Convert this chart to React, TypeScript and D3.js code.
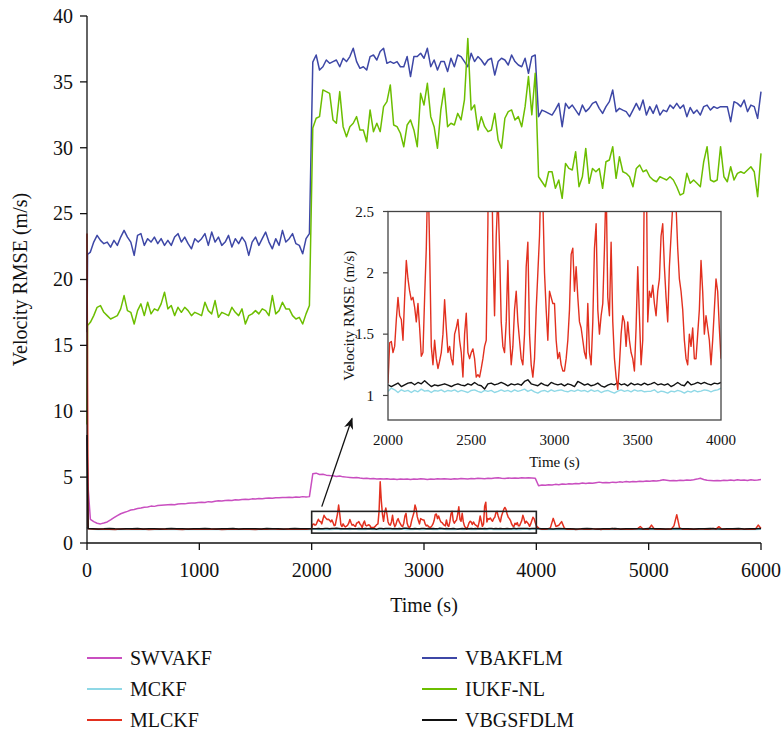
import React from "react";
import * as d3 from "d3";

// ---------- data ----------
type Seg = { start: number; step: number; values: number[] };

const mainXTicks = [0, 1000, 2000, 3000, 4000, 5000, 6000];
const mainYTicks = [0, 5, 10, 15, 20, 25, 30, 35, 40];
const insetXTicks = [2000, 2500, 3000, 3500, 4000];
const insetYTicks = [1, 1.5, 2, 2.5];
const zoomWindow = { t0: 2000, t1: 4000, v0: 0.75, v1: 2.4 };

// SWVAKF
const swvakfHead = [8.0, 4.2];
const swvakf0 = [1.80,1.62,1.50,1.45,1.52,1.60,1.75,1.92,2.08,2.22,2.32,2.40,2.50,2.55,2.62,2.65,2.72,2.74,2.80,2.78,2.84,2.86,2.88,2.90,2.92,2.90,2.96,2.98,2.97,3.02,3.04,3.03,3.08,3.10,3.08,3.14,3.12,3.17,3.20,3.18,3.22,3.25,3.23,3.28,3.26,3.30,3.32,3.30,3.35,3.34,3.38,3.36,3.40,3.42,3.40,3.44,3.43,3.46,3.45,3.48,3.46,3.50,3.48,3.52,3.50,3.52];
const swvakf1 = [5.25,5.30,5.20,5.22,5.15,5.12,5.10,5.05,5.08,5.02,5.00,4.98,4.95,4.97,4.93,4.90,4.92,4.88,4.90,4.86,4.88,4.85,4.88,4.84,4.86,4.82,4.85,4.83,4.86,4.82,4.85,4.84,4.88,4.85,4.82,4.86,4.84,4.87,4.85,4.88,4.86,4.84,4.88,4.86,4.90,4.88,4.86,4.90,4.88,4.92,4.90,4.88,4.92,4.90,4.93,4.96,4.92,4.90,4.93,4.91,4.94,4.92,4.95,4.93,4.95,4.94,4.92];
const swvakf2 = [4.35,4.40,4.38,4.42,4.40,4.45,4.43,4.47,4.45,4.50,4.48,4.52,4.50,4.55,4.52,4.56,4.54,4.58,4.62,4.57,4.60,4.58,4.62,4.60,4.64,4.62,4.66,4.63,4.67,4.65,4.68,4.66,4.70,4.68,4.72,4.70,4.74,4.80,4.76,4.72,4.74,4.72,4.76,4.74,4.78,4.76,4.80,4.85,4.92,4.82,4.76,4.74,4.72,4.75,4.73,4.76,4.74,4.78,4.75,4.80,4.76,4.78,4.74,4.80,4.76,4.78,4.82];

// VBAKFLM
const vbakflmHead = [16.0, 21.9];
const vbakflm0 = [22.08,22.84,23.35,22.97,22.72,22.84,22.46,22.97,22.59,23.22,23.73,23.22,22.84,21.83,23.35,23.48,22.59,23.10,22.84,23.22,22.72,23.10,22.59,22.97,22.59,23.22,23.48,22.84,23.22,22.72,22.33,23.10,22.84,23.10,23.48,22.59,23.60,22.84,23.22,22.59,22.84,23.35,22.46,23.10,22.72,23.22,22.84,21.83,22.84,23.22,22.59,23.10,23.60,22.84,22.33,23.10,22.59,23.73,22.84,23.10,23.48,22.72,22.59,21.95,23.10,23.48];
const vbakflm1 = [36.50,37.04,35.90,36.15,36.66,36.41,36.54,36.66,36.15,36.79,36.54,36.92,37.55,36.54,36.03,36.15,35.90,36.92,37.04,36.66,37.30,37.55,36.41,36.54,36.41,36.54,36.15,36.15,36.92,35.40,36.92,36.92,37.17,36.79,37.55,36.15,36.66,35.90,36.54,36.54,35.78,36.79,36.15,37.04,36.92,36.54,36.15,37.17,36.54,36.92,36.66,36.28,36.66,36.79,35.52,36.54,36.79,36.66,36.28,37.04,36.54,36.28,36.15,36.79,35.65,36.92,37.04];
const vbakflm2 = [32.36,32.86,32.74,32.61,32.48,32.90,33.37,31.60,33.37,32.99,33.24,32.86,32.48,33.24,32.74,32.99,33.37,33.50,32.99,32.61,33.12,33.50,34.38,32.74,32.99,32.86,32.74,32.36,32.86,33.37,32.86,33.62,32.48,33.12,32.61,33.24,32.48,32.86,32.74,33.24,32.99,33.37,32.99,33.24,32.36,33.05,32.61,32.86,32.48,33.12,33.24,32.86,33.12,32.99,33.12,33.12,33.12,31.98,33.50,33.37,33.12,33.62,32.74,33.24,33.12,32.23,34.26];

// IUKF-NL
const iukfHead = [9.0, 16.5];
const iukf0 = [16.75,17.26,17.89,18.02,17.51,17.26,17.00,17.13,17.26,17.77,18.78,17.64,17.51,16.62,17.64,18.15,17.26,18.27,17.39,17.77,17.64,18.15,19.04,17.77,18.02,17.26,17.89,17.51,17.89,17.64,17.26,17.51,17.39,17.26,18.27,17.64,17.39,18.40,17.13,17.51,17.39,17.26,17.89,17.51,17.26,17.77,16.62,17.26,17.39,17.64,17.39,17.77,17.64,17.26,18.78,17.39,17.64,18.27,17.77,17.77,17.26,17.00,17.13,16.62,17.39,18.02];
const iukf1 = [31.50,32.24,32.36,34.39,34.26,34.13,32.11,31.86,34.26,31.60,30.84,31.60,31.86,32.36,31.35,31.35,30.46,32.87,31.22,31.86,31.22,33.12,33.50,34.77,31.73,31.60,31.10,30.08,31.73,32.11,31.35,30.08,34.13,33.25,34.89,32.36,31.60,29.96,32.87,34.51,31.60,31.86,31.73,32.61,32.11,33.63,38.30,32.87,33.25,31.35,32.36,31.60,31.22,31.35,32.61,30.59,29.96,32.24,32.74,32.87,32.11,32.36,31.60,33.12,35.40,32.50,35.65];
const iukf2 = [27.80,27.42,27.04,28.18,28.18,26.92,27.55,26.16,28.81,28.43,28.31,29.70,27.04,27.80,29.95,27.30,28.43,28.18,28.43,26.92,28.94,29.07,30.08,27.68,29.32,28.18,28.06,27.80,27.04,28.43,28.69,28.18,28.31,27.80,27.55,27.42,27.80,27.68,27.55,27.80,27.55,27.04,26.41,26.54,28.06,27.30,27.55,27.30,27.04,28.94,30.08,27.55,27.42,27.55,30.08,27.80,27.42,28.56,27.55,28.06,28.18,28.06,28.31,28.56,28.18,26.29,29.57];

// MLCKF
const mlckfHead = [23.5, 1.08];
const mlckf0 = [1.06,1.04,1.07,1.05,1.03,1.06,1.08,1.04,1.05,1.07,1.03,1.05,1.06,1.04,1.08,1.05,1.03,1.06,1.05,1.07,1.04,1.05,1.06,1.03,1.05,1.07,1.04,1.06,1.05,1.03,1.06,1.05,1.08,1.04,1.05,1.06,1.04,1.07,1.05];
const mlckf1 = [
  1.10,1.43,1.44,1.35,1.40,1.62,1.80,1.65,1.62,1.45,
  1.80,2.10,1.95,1.85,1.78,1.80,1.72,1.60,1.75,1.55,
  1.32,1.35,1.80,2.20,2.88,2.20,1.40,1.25,1.45,1.30,
  1.22,1.28,1.35,1.50,1.78,1.55,1.35,1.40,1.30,1.25,
  1.50,1.55,1.62,1.45,1.35,1.15,1.50,1.67,1.35,1.30,
  1.35,1.38,1.30,1.15,1.17,1.15,1.22,1.30,1.40,1.45,
  2.40,4.65,3.20,2.20,1.65,2.30,2.65,2.20,1.60,1.40,
  1.35,1.60,2.10,1.50,1.25,1.40,1.70,1.85,1.60,1.45,
  1.30,1.25,1.50,2.05,2.25,1.50,1.25,1.15,1.30,1.70,
  2.00,2.30,2.88,2.60,2.00,1.70,1.45,1.85,1.80,1.75,
  1.75,1.45,1.30,1.35,1.25,1.20,1.20,1.30,1.45,1.70,
  2.15,2.20,1.85,2.05,1.80,1.60,1.55,1.45,1.35,1.30,
  1.75,1.35,1.25,1.60,2.20,2.40,1.70,1.50,1.65,1.75,
  2.20,2.75,1.80,1.65,2.25,1.60,1.30,1.15,1.05,1.25,
  1.50,1.65,1.60,1.40,1.60,1.45,1.35,1.30,1.20,1.55,
  2.05,1.65,1.25,1.45,2.80,3.10,1.60,1.85,1.80,1.90,
  1.75,1.65,1.85,1.95,2.30,2.40,2.05,1.80,1.60,2.05,
  2.30,2.55,2.70,2.55,2.20,1.95,1.85,1.70,1.45,1.30,
  1.25,1.50,1.40,1.55,1.30,1.30,1.50,1.70,2.10,1.85,
  1.50,1.65,1.55,1.45,1.25,1.45,1.70,1.95,1.85,1.55,
  1.30,
];
const mlckf2 = [1.10,1.05,1.04,1.07,1.15,1.87,1.25,1.35,1.62,1.12,1.05,1.04,1.06,1.03,1.05,1.08,1.04,1.06,1.05,1.09,1.04,1.06,1.03,1.07,1.05,1.04,1.10,1.05,1.08,1.04,1.06,1.05,1.07,1.04,1.06,1.08,1.25,1.06,1.04,1.05,1.36,1.07,1.04,1.05,1.07,1.04,1.06,1.05,1.30,2.15,1.15,1.05,1.06,1.04,1.07,1.05,1.04,1.06,1.08,1.05,1.04,1.06,1.10,1.05,1.24,1.06,1.04,1.05,1.07,1.04,1.06,1.05,1.08,1.04,1.06,1.05,1.07,1.05,1.36,1.10];

// MCKF
const mckfHead = [1.2, 1.06];
const mckf0 = [1.04,1.03,1.02,1.04,1.03,1.05,1.03,1.02,1.04,1.03,1.04,1.02,1.03,1.05,1.03,1.04,1.02,1.03,1.04,1.03,1.05,1.02,1.03,1.04,1.03,1.02,1.04,1.03,1.05,1.03,1.02,1.04,1.03,1.04,1.02,1.03,1.05,1.03,1.04];
const mckf1 = [1.033,1.060,1.046,1.024,1.046,1.033,1.041,1.024,1.041,1.030,1.052,1.035,1.041,1.024,1.041,1.035,1.046,1.030,1.041,1.035,1.046,1.030,1.041,1.033,1.024,1.041,1.046,1.033,1.024,1.041,1.033,1.041,1.024,1.033,1.046,1.033,1.041,1.030,1.046,1.033,1.041,1.052,1.033,1.046,1.030,1.019,1.035,1.041,1.030,1.046,1.033,1.041,1.046,1.035,1.030,1.041,1.033,1.046,1.035,1.041,1.030,1.046,1.033,1.041,1.024,1.035,1.041,1.030,1.019,1.035,1.046,1.033,1.041,1.030,1.046,1.035,1.041,1.030,1.033,1.035,1.046,1.024,1.035,1.030,1.019,1.035,1.030,1.041,1.033,1.019,1.035,1.027,1.041,1.030,1.035,1.046,1.041,1.030,1.041,1.046,1.060];
const mckf2 = [1.03,1.04,1.02,1.03,1.05,1.03,1.04,1.02,1.03,1.04,1.03,1.05,1.02,1.03,1.04,1.03,1.02,1.04,1.03,1.05,1.03,1.02,1.04,1.03,1.04,1.02,1.03,1.05,1.03,1.04,1.02,1.03,1.04,1.03,1.05,1.02,1.03,1.04,1.03,1.04];

// VBGSFDLM
const vbgsfdlmHead = [8.2, 1.1];
const vbgsfdlm0 = [1.09,1.07,1.08,1.10,1.08,1.07,1.09,1.08,1.10,1.07,1.08,1.09,1.07,1.08,1.10,1.08,1.09,1.07,1.08,1.09,1.10,1.08,1.07,1.09,1.08,1.10,1.07,1.08,1.09,1.08,1.07,1.10,1.08,1.09,1.07,1.08,1.10,1.08,1.09];
const vbgsfdlm1 = [1.087,1.073,1.087,1.101,1.073,1.087,1.101,1.106,1.087,1.106,1.095,1.120,1.095,1.073,1.087,1.079,1.087,1.095,1.084,1.073,1.087,1.095,1.084,1.079,1.095,1.084,1.106,1.087,1.079,1.052,1.095,1.101,1.087,1.095,1.106,1.095,1.079,1.095,1.087,1.095,1.084,1.114,1.128,1.095,1.087,1.079,1.101,1.087,1.079,1.106,1.095,1.087,1.095,1.079,1.095,1.087,1.073,1.114,1.101,1.084,1.095,1.079,1.087,1.101,1.079,1.068,1.084,1.095,1.087,1.106,1.087,1.095,1.079,1.101,1.087,1.095,1.084,1.101,1.087,1.095,1.106,1.087,1.095,1.084,1.095,1.073,1.087,1.106,1.087,1.079,1.114,1.087,1.095,1.106,1.095,1.106,1.095,1.087,1.101,1.095,1.106];
const vbgsfdlm2 = [1.08,1.09,1.07,1.10,1.08,1.09,1.07,1.08,1.10,1.08,1.07,1.09,1.08,1.10,1.07,1.08,1.09,1.08,1.07,1.10,1.08,1.09,1.07,1.08,1.10,1.08,1.09,1.07,1.08,1.09,1.10,1.08,1.07,1.09,1.08,1.10,1.07,1.08,1.09,1.10];

type Series = { name: string; color: string; segs: Seg[] };

const seriesList: Series[] = [
  { name: "SWVAKF", color: "#c94fc0", segs: [
    { start: 0, step: 10, values: swvakfHead },
    { start: 30, step: 30, values: swvakf0 },
    { start: 2010, step: 30, values: swvakf1 },
    { start: 4020, step: 30, values: swvakf2 },
  ] },
  { name: "VBAKFLM", color: "#3d47a6", segs: [
    { start: 0, step: 5, values: vbakflmHead },
    { start: 30, step: 30, values: vbakflm0 },
    { start: 2010, step: 30, values: vbakflm1 },
    { start: 4020, step: 30, values: vbakflm2 },
  ] },
  { name: "MCKF", color: "#8fd8e6", segs: [
    { start: 0, step: 10, values: mckfHead },
    { start: 50, step: 50, values: mckf0 },
    { start: 2000, step: 20, values: mckf1 },
    { start: 4050, step: 50, values: mckf2 },
  ] },
  { name: "IUKF-NL", color: "#6cbe00", segs: [
    { start: 0, step: 5, values: iukfHead },
    { start: 30, step: 30, values: iukf0 },
    { start: 2010, step: 30, values: iukf1 },
    { start: 4020, step: 30, values: iukf2 },
  ] },
  { name: "MLCKF", color: "#e2301f", segs: [
    { start: 0, step: 10, values: mlckfHead },
    { start: 50, step: 50, values: mlckf0 },
    { start: 2000, step: 10, values: mlckf1 },
    { start: 4025, step: 25, values: mlckf2 },
  ] },
  { name: "VBGSFDLM", color: "#111111", segs: [
    { start: 0, step: 10, values: vbgsfdlmHead },
    { start: 50, step: 50, values: vbgsfdlm0 },
    { start: 2000, step: 20, values: vbgsfdlm1 },
    { start: 4050, step: 50, values: vbgsfdlm2 },
  ] },
];

const legendLeft = ["SWVAKF", "MCKF", "MLCKF"];
const legendRight = ["VBAKFLM", "IUKF-NL", "VBGSFDLM"];
const insetOrder = ["MCKF", "VBGSFDLM", "MLCKF"];

const toPoints = (segs: Seg[]): [number, number][] =>
  segs.flatMap((s) => s.values.map((v, i) => [s.start + i * s.step, v] as [number, number]));

// ---------- layout ----------
const W = 782;
const H = 734;
const FONT = '"Liberation Serif", "DejaVu Serif", "Times New Roman", serif';
const textStyle = { fontFamily: FONT };

const x = d3.scaleLinear().domain([0, 6000]).range([87, 761]);
const y = d3.scaleLinear().domain([0, 40]).range([543, 16]);

const ix = d3.scaleLinear().domain([2000, 4000]).range([388, 721]);
const iy = d3.scaleLinear().domain([0.8, 2.5]).range([420, 211.5]);

export default function App() {
  const mainLine = d3
    .line<[number, number]>()
    .x((d) => x(d[0]))
    .y((d) => y(d[1]));
  const insetLine = d3
    .line<[number, number]>()
    .x((d) => ix(d[0]))
    .y((d) => iy(d[1]));

  const byName = new Map(seriesList.map((s) => [s.name, s]));
  const [iL, iR] = ix.range();
  const [iB, iT] = iy.range();

  // arrow from the zoom box up to the inset
  const arrowFrom: [number, number] = [x(2090), y(2.76)];
  const arrowTo: [number, number] = [iL - 36, iB - 1.5];

  return (
    <svg
      width={W}
      height={H}
      style={{ position: "absolute", left: 0, top: 0, background: "#fff", fontFamily: FONT }}
    >
      <defs>
        <clipPath id="insetClip">
          <rect x={iL} y={iT} width={iR - iL} height={iB - iT} />
        </clipPath>
        <marker id="arrowHead" viewBox="0 0 10 10" refX="9" refY="5" markerWidth="9" markerHeight="9" orient="auto">
          <path d="M0,1 L10,5 L0,9 L3,5 Z" fill="#111" />
        </marker>
      </defs>
      <rect width={W} height={H} fill="#fff" />

      {/* main series */}
      {seriesList.map((s) => (
        <path
          key={s.name}
          d={mainLine(toPoints(s.segs)) ?? ""}
          fill="none"
          stroke={s.color}
          strokeWidth={1.5}
          strokeLinejoin="round"
        />
      ))}

      {/* zoom box */}
      <rect
        x={x(zoomWindow.t0)}
        y={y(zoomWindow.v1)}
        width={x(zoomWindow.t1) - x(zoomWindow.t0)}
        height={y(zoomWindow.v0) - y(zoomWindow.v1)}
        fill="none"
        stroke="#222"
        strokeWidth={1.6}
      />
      <line
        x1={arrowFrom[0]}
        y1={arrowFrom[1]}
        x2={arrowTo[0]}
        y2={arrowTo[1]}
        stroke="#111"
        strokeWidth={1.3}
        markerEnd="url(#arrowHead)"
      />

      {/* main axes */}
      <g stroke="#111" strokeWidth={1.3}>
        <line x1={x(0)} x2={x(0)} y1={y(0)} y2={y(40)} />
        <line x1={x(0)} x2={x(6000)} y1={y(0)} y2={y(0)} />
        {mainYTicks.map((t) => (
          <line key={"yt" + t} x1={x(0) - 7} x2={x(0)} y1={y(t)} y2={y(t)} />
        ))}
        {mainXTicks.map((t) => (
          <line key={"xt" + t} x1={x(t)} x2={x(t)} y1={y(0)} y2={y(0) + 7} />
        ))}
      </g>
      <g fontSize={20} fill="#111" style={textStyle}>
        {mainYTicks.map((t) => (
          <text key={"yl" + t} x={x(0) - 14} y={y(t)} dy="0.34em" textAnchor="end" style={textStyle}>
            {t}
          </text>
        ))}
        {mainXTicks.map((t) => (
          <text key={"xl" + t} x={x(t)} y={577} textAnchor="middle" style={textStyle}>
            {t}
          </text>
        ))}
        <text x={(x(0) + x(6000)) / 2} y={612} textAnchor="middle" style={textStyle}>
          Time (s)
        </text>
        <text transform={`translate(27,${(y(0) + y(40)) / 2}) rotate(-90)`} textAnchor="middle" style={textStyle}>
          Velocity RMSE (m/s)
        </text>
      </g>

      {/* inset */}
      <rect x={iL} y={iT} width={iR - iL} height={iB - iT} fill="#fff" />
      <g clipPath="url(#insetClip)">
        {insetOrder.map((n) => {
          const s = byName.get(n)!;
          const pts = toPoints(s.segs).filter((d) => d[0] >= 2000 && d[0] <= 4000);
          return (
            <path
              key={"in" + n}
              d={insetLine(pts) ?? ""}
              fill="none"
              stroke={s.color}
              strokeWidth={1.4}
              strokeLinejoin="round"
            />
          );
        })}
      </g>
      <rect x={iL} y={iT} width={iR - iL} height={iB - iT} fill="none" stroke="#444" strokeWidth={1.3} />
      <g stroke="#444" strokeWidth={1.2}>
        {insetYTicks.map((t) => (
          <line key={"iyt" + t} x1={iL - 5} x2={iL} y1={iy(t)} y2={iy(t)} />
        ))}
      </g>
      <g fontSize={15} fill="#111" style={textStyle}>
        {insetYTicks.map((t) => (
          <text key={"iyl" + t} x={iL - 14} y={iy(t)} dy="0.34em" textAnchor="end" style={textStyle}>
            {t}
          </text>
        ))}
        {insetXTicks.map((t) => (
          <text key={"ixl" + t} x={ix(t)} y={445} textAnchor="middle" style={textStyle}>
            {t}
          </text>
        ))}
        <text x={(iL + iR) / 2} y={467} textAnchor="middle" style={textStyle}>
          Time (s)
        </text>
        <text transform={`translate(354,${(iT + iB) / 2}) rotate(-90)`} textAnchor="middle" style={textStyle}>
          Velocity RMSE (m/s)
        </text>
      </g>

      {/* legend */}
      <g fontSize={20} fill="#111" style={textStyle}>
        {[legendLeft, legendRight].map((col, ci) =>
          col.map((n, ri) => {
            const s = byName.get(n)!;
            const lx = ci === 0 ? 87 : 422;
            const ly = 658 + ri * 31;
            return (
              <g key={"lg" + n}>
                <line x1={lx} x2={lx + 35} y1={ly} y2={ly} stroke={s.color} strokeWidth={2} />
                <text x={lx + 43} y={ly + 7} style={textStyle}>
                  {n}
                </text>
              </g>
            );
          })
        )}
      </g>
    </svg>
  );
}
